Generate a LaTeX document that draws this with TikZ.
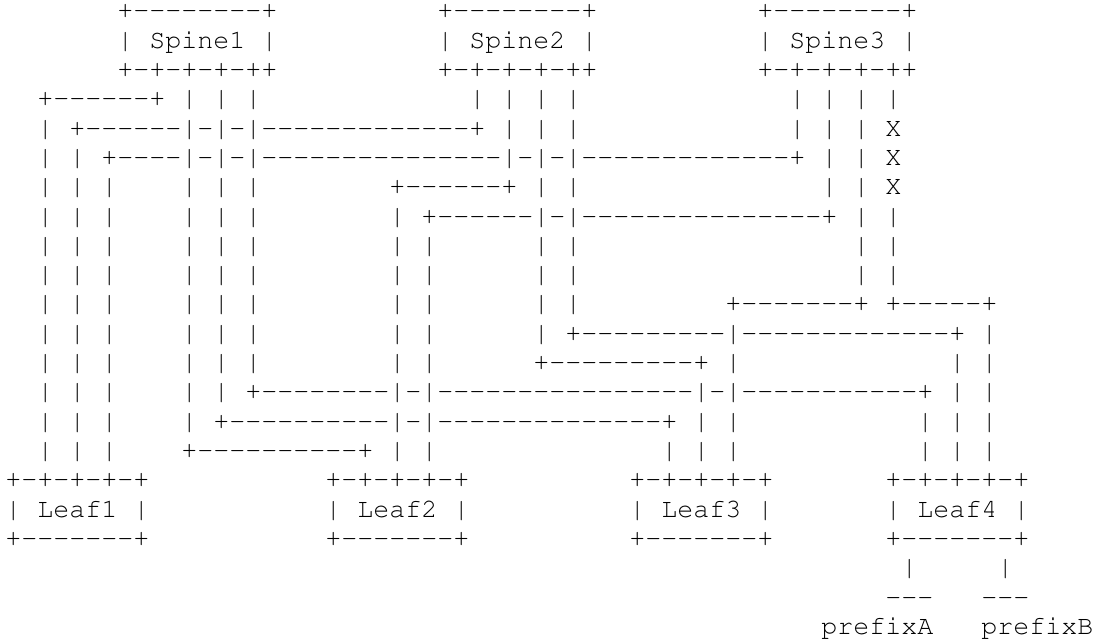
\documentclass[tikz,border=0pt]{standalone}
\usepackage[T1]{fontenc}
\usepackage{tikz}

\newcommand\asciifont{\fontencoding{T1}\fontfamily{pcr}\fontsize{13.33pt}{14.65pt}\selectfont}
\tikzset{ch/.style={inner sep=0pt, outer sep=0pt, anchor=base west, font=\asciifont}}

% [crossed columns] row, first column, last column
\newcommand\hwire[4][]{%
  \pgfmathtruncatemacro\wfirst{#3+1}%
  \pgfmathtruncatemacro\wlast{#4-1}%
  \node[ch] at (#3,#2) {+};
  \node[ch] at (#4,#2) {+};
  \foreach \x in {\wfirst,...,\wlast} {%
    \gdef\wcross{0}%
    \foreach \k in {#1} {\ifnum\k=\x\relax\gdef\wcross{1}\fi}%
    \ifnum\wcross=0 \node[ch] at (\x,#2) {-};\fi
  }
}
% column, first row, last row
\newcommand\vwire[3]{\foreach \y in {#2,...,#3} \node[ch] at (#1,\y) {|};}

% name, column, row, label
\newcommand\spinebox[4]{%
  \hwire{#3}{#2}{#2+9}
  \node[ch] at (#2,#3+1) {|};
  \node[ch] (#1) at (#2+2,#3+1) {#4};
  \node[ch] at (#2+9,#3+1) {|};
  \foreach \x in {0,2,4,6,8,9} \node[ch] at (#2+\x,#3+2) {+};
  \foreach \x in {1,3,5,7} \node[ch] at (#2+\x,#3+2) {-};
}
\newcommand\leafbox[4]{%
  \foreach \x in {0,2,4,6,8} \node[ch] at (#2+\x,#3) {+};
  \foreach \x in {1,3,5,7} \node[ch] at (#2+\x,#3) {-};
  \node[ch] at (#2,#3+1) {|};
  \node[ch] (#1) at (#2+2,#3+1) {#4};
  \node[ch] at (#2+8,#3+1) {|};
  \hwire{#3+2}{#2}{#2+8}
}

\begin{document}
\begin{tikzpicture}
\useasboundingbox (0,0) rectangle (551pt,-320.5pt);
\begin{scope}[x=8pt, y=-14.65pt, shift={(2.65pt,-9.5pt)}]

\spinebox{spine1}{7}{0}{Spine1}
\spinebox{spine2}{27}{0}{Spine2}
\spinebox{spine3}{47}{0}{Spine3}

\leafbox{leaf1}{0}{16}{Leaf1}
\leafbox{leaf2}{20}{16}{Leaf2}
\leafbox{leaf3}{39}{16}{Leaf3}
\leafbox{leaf4}{55}{16}{Leaf4}

% horizontal runs
\hwire{3}{2}{9}
\hwire[11,13,15]{4}{4}{29}
\hwire[11,13,15,31,33,35]{5}{6}{49}
\hwire{6}{24}{31}
\hwire[33,35]{7}{26}{51}
\hwire{10}{45}{53}
\hwire{10}{55}{61}
\hwire[45]{11}{35}{59}
\hwire{12}{33}{43}
\hwire[24,26,43,45]{13}{15}{57}
\hwire[24,26]{14}{13}{41}
\hwire{15}{11}{22}

% vertical runs
\vwire{2}{4}{15}
\vwire{4}{5}{15}
\vwire{6}{6}{15}
\vwire{11}{3}{14}
\vwire{13}{3}{13}
\vwire{15}{3}{12}
\vwire{24}{7}{15}
\vwire{26}{8}{15}
\vwire{29}{3}{3}
\vwire{31}{3}{5}
\vwire{33}{3}{11}
\vwire{35}{3}{10}
\vwire{41}{15}{15}
\vwire{43}{13}{15}
\vwire{45}{11}{15}
\vwire{49}{3}{4}
\vwire{51}{3}{6}
\vwire{53}{3}{9}
\vwire{55}{3}{3}
\vwire{55}{7}{9}
\vwire{57}{14}{15}
\vwire{59}{12}{15}
\vwire{61}{11}{15}

% broken link
\foreach \y in {4,5,6} \node[ch] at (55,\y) {X};

% prefixes below Leaf4
\vwire{56}{19}{19}
\vwire{62}{19}{19}
\foreach \x in {55,56,57,61,62,63} \node[ch] at (\x,20) {-};
\node[ch] (pfxA) at (51,21) {pref{}ixA};
\node[ch] (pfxB) at (61,21) {pref{}ixB};

\end{scope}
\end{tikzpicture}
\end{document}
